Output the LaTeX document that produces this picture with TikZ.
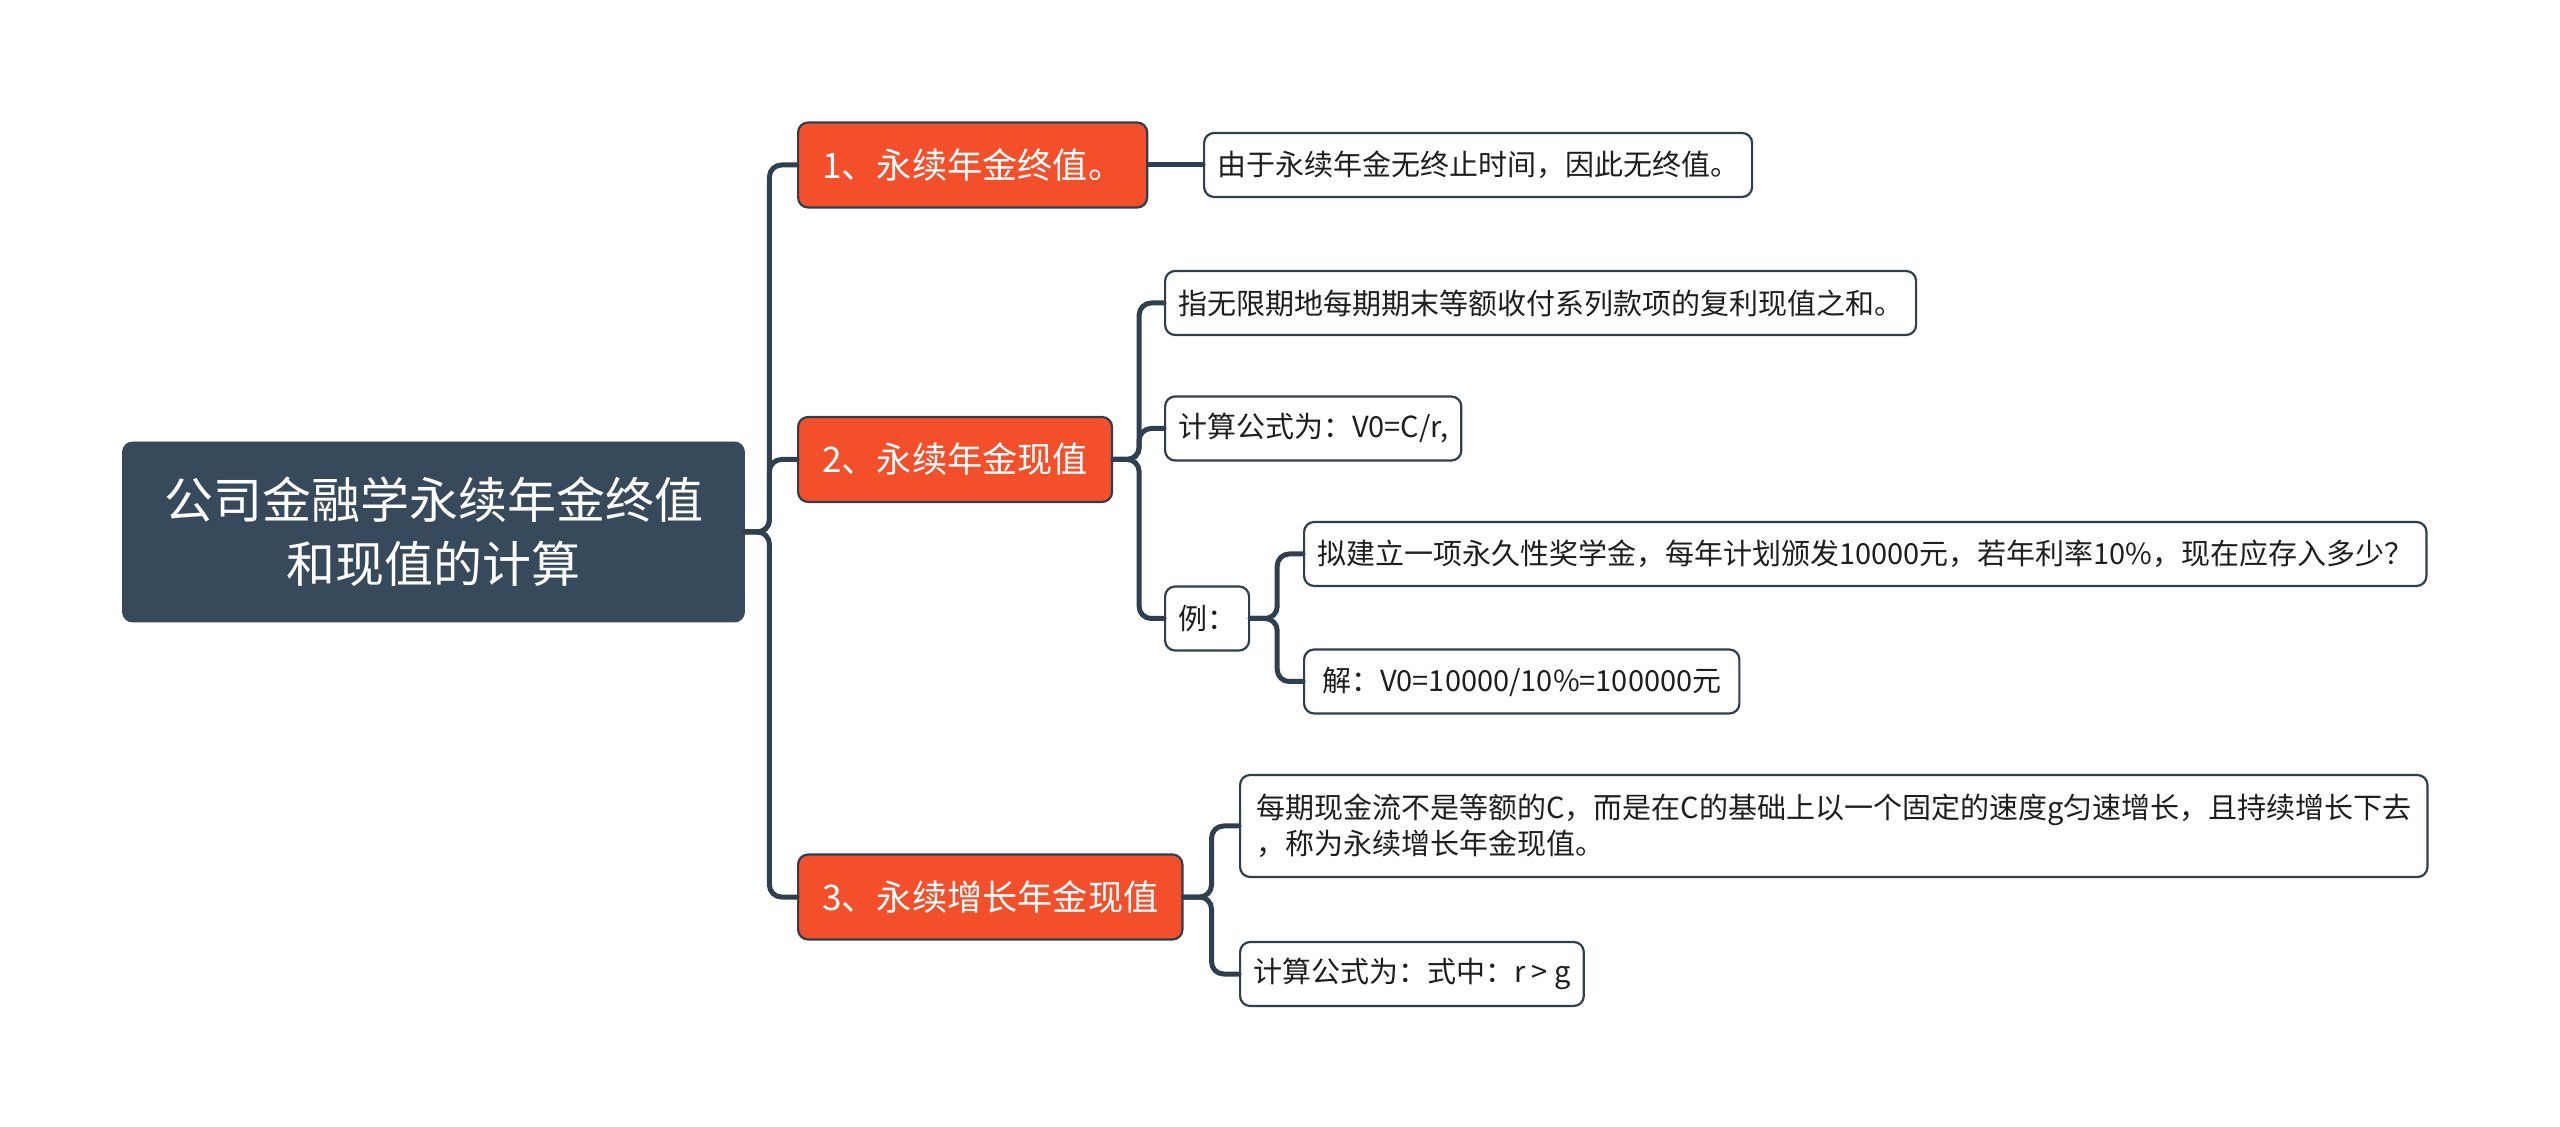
\documentclass[tikz,border=0pt]{standalone}
\usepackage{fontspec}
\newfontfamily\cjk{Noto Sans CJK SC}
\definecolor{rootfill}{HTML}{374A5B}
\definecolor{topicfill}{HTML}{F44F2B}
\definecolor{edgecol}{HTML}{2E3F4F}
\definecolor{textcol}{HTML}{1E1E1E}
\begin{document}
\begin{tikzpicture}[x=0.5pt,y=-0.5pt,line cap=round,line join=round,
  rootbox/.style={fill=rootfill,draw=rootfill,rounded corners=5pt,text=white,
    font=\cjk\fontsize{24.5}{32}\selectfont,align=center,
    minimum width=311pt,minimum height=90pt},
  topic/.style={fill=topicfill,draw=edgecol,line width=1.1pt,rounded corners=5pt,
    text=white,font=\cjk\fontsize{17.6}{21}\selectfont,anchor=west,
    inner xsep=12pt,minimum height=42.5pt},
  leaf/.style={fill=white,draw=edgecol,line width=1.1pt,rounded corners=5pt,
    text=textcol,font=\cjk\fontsize{14.5}{18}\selectfont,anchor=west,align=left,
    inner xsep=6.5pt,minimum height=32pt},
  conn/.style={draw=edgecol,line width=2.5pt,rounded corners=6pt}]
  \useasboundingbox (0,0) rectangle (2560,1127);
  % root and main topics
  \node[rootbox] (root) at (433.5,532) {公司金融学永续年金终值\\和现值的计算};
  \node[topic] (t1) at (797,165) {1、永续年金终值。};
  \node[topic] (t2) at (797,459.5) {2、永续年金现值};
  \node[topic] (t3) at (797,897) {3、永续增长年金现值};
  % details
  \node[leaf] (d1) at (1203,165) {由于永续年金无终止时间，因此无终值。};
  \node[leaf] (d21) at (1164,303) {指无限期地每期期末等额收付系列款项的复利现值之和。};
  \node[leaf] (d22) at (1164,428.5) {计算公式为：V0=C/r,};
  \node[leaf] (d23) at (1164,618.5) {例：};
  \node[leaf] (e1) at (1303,554) {拟建立一项永久性奖学金，每年计划颁发10000元，若年利率10\%，现在应存入多少？};
  \node[leaf,inner xsep=9pt] (e2) at (1303,681.5) {解：V0=10000/10\%=100000元};
  \node[leaf,minimum height=51pt,inner xsep=8pt] (d31) at (1239,826) {每期现金流不是等额的C，而是在C的基础上以一个固定的速度g匀速增长，且持续增长下去\\，称为永续增长年金现值。};
  \node[leaf] (d32) at (1239,974) {计算公式为：式中：r > g};
  % connectors
  \foreach \t in {t1,t2,t3}
    \draw[conn] (root.east) -- ++(24.5,0) |- (\t.west);
  \draw[conn] (t1.east) -- (d1.west);
  \foreach \d in {d21,d22,d23}
    \draw[conn] (t2.east) -- ++(26,0) |- (\d.west);
  \foreach \e in {e1,e2}
    \draw[conn] (d23.east) -- ++(27,0) |- (\e.west);
  \foreach \d in {d31,d32}
    \draw[conn] (t3.east) -- ++(28,0) |- (\d.west);
\end{tikzpicture}
\end{document}
